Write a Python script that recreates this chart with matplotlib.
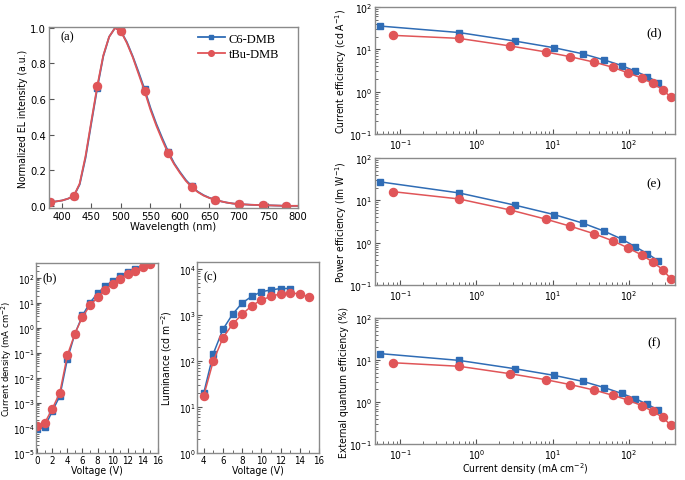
import matplotlib
matplotlib.use("Agg")
import matplotlib.pyplot as plt
from matplotlib.ticker import LogLocator, NullFormatter, MultipleLocator

plt.rcParams['font.family'] = ['DejaVu Sans']
plt.rcParams['font.stretch'] = 'condensed'
plt.rcParams['font.size'] = 8
plt.rcParams['mathtext.fontset'] = 'dejavusans'

AZUL = "#2f6cb5"
ROJO = "#e05558"
GRIS = "#8a8a8a"
SERIF = ['Liberation Serif', 'DejaVu Serif']

# (a) espectro EL normalizado
wl = list(range(380, 801, 10))
el_c6 = [0.02, 0.025, 0.03, 0.04, 0.055, 0.12, 0.27, 0.47, 0.665, 0.84, 0.95, 1.0, 0.98,
         0.92, 0.84, 0.75, 0.655, 0.55, 0.46, 0.38, 0.305, 0.24, 0.19, 0.145, 0.11, 0.08,
         0.06, 0.045, 0.035, 0.025, 0.018, 0.013, 0.01, 0.008, 0.006, 0.005, 0.005, 0.003,
         0.002, 0.001, 0.0, 0.0, 0.0]
el_tbu = [0.02, 0.025, 0.03, 0.04, 0.055, 0.125, 0.28, 0.48, 0.675, 0.845, 0.95, 1.0, 0.98,
          0.915, 0.835, 0.74, 0.645, 0.54, 0.45, 0.37, 0.295, 0.235, 0.185, 0.14, 0.105, 0.078,
          0.058, 0.044, 0.034, 0.025, 0.018, 0.013, 0.01, 0.008, 0.006, 0.005, 0.005, 0.003,
          0.002, 0.001, 0.0, 0.0, 0.0]

# (b), (c) J-V y L-V
v_c6 = [0, 1, 2, 3, 4, 5, 6, 7, 8, 9, 10, 11, 12, 13]
j_c6 = [9e-5, 1.1e-4, 4.7e-4, 1.9e-3, 0.057, 0.6, 3.2, 10.5, 24.5, 47, 78, 118, 168, 235]
v_tbu = [0, 1, 2, 3, 4, 5, 6, 7, 8, 9, 10, 11, 12, 13, 14, 15]
j_tbu = [1.2e-4, 1.6e-4, 5.9e-4, 2.6e-3, 0.083, 0.6, 2.8, 8.1, 17, 34, 60, 95, 145, 200, 275, 350]

vl_c6 = [4, 5, 6, 7, 8, 9, 10, 11, 12, 13]
lum_c6 = [20, 144, 485, 1030, 1810, 2520, 3170, 3480, 3730, 3730]
vl_tbu = [4, 5, 6, 7, 8, 9, 10, 11, 12, 13, 14, 15]
lum_tbu = [17.5, 100, 316, 630, 1030, 1580, 2100, 2520, 2870, 2970, 2870, 2410]

# (d), (e), (f) eficiencias vs densidad de corriente
jd_c6 = [0.055, 0.59, 3.2, 10.5, 24.8, 47.6, 80, 121, 174, 243]
jd_tbu = [0.082, 0.59, 2.8, 8.1, 17, 34.7, 61.7, 95.7, 147, 204, 277, 352]
ce_c6 = [35.5, 25, 15.7, 10.9, 7.85, 5.6, 4.15, 3.04, 2.28, 1.64]
ce_tbu = [21.4, 18.2, 12, 8.7, 6.7, 5.0, 3.76, 2.8, 2.1, 1.57, 1.11, 0.74]
pe_c6 = [27.3, 15, 7.7, 4.6, 2.9, 1.86, 1.22, 0.80, 0.55, 0.37]
pe_tbu = [16, 10.8, 5.9, 3.6, 2.45, 1.63, 1.1, 0.76, 0.51, 0.35, 0.23, 0.14]
eqe_c6 = [14.2, 9.8, 6.2, 4.3, 3.1, 2.2, 1.6, 1.2, 0.88, 0.64]
eqe_tbu = [8.6, 7.1, 4.7, 3.4, 2.6, 1.93, 1.44, 1.12, 0.82, 0.6, 0.43, 0.28]


def estilo(ax, logy=False, logx=False, ls=7.5):
    for s in ax.spines.values():
        s.set_color(GRIS)
        s.set_linewidth(1.0)
    ax.tick_params(which='both', direction='in', top=False, right=False,
                   color='#555555', labelsize=ls, pad=2)
    ax.tick_params(which='major', length=3.5)
    ax.tick_params(which='minor', length=2)
    if logy:
        ax.set_yscale('log')
        ax.yaxis.set_major_locator(LogLocator(base=10, numticks=20))
        ax.yaxis.set_minor_locator(LogLocator(base=10, subs=range(2, 10), numticks=20))
        ax.yaxis.set_minor_formatter(NullFormatter())
    if logx:
        ax.set_xscale('log')
        ax.xaxis.set_major_locator(LogLocator(base=10, numticks=20))
        ax.xaxis.set_minor_locator(LogLocator(base=10, subs=range(2, 10), numticks=20))
        ax.xaxis.set_minor_formatter(NullFormatter())


def curvas(ax, x1, y1, x2, y2):
    ax.plot(x1, y1, '-s', color=AZUL, lw=1.1, ms=5, label='C6-DMB')
    ax.plot(x2, y2, '-o', color=ROJO, lw=1.1, ms=5.8, label='tBu-DMB')


fig = plt.figure(figsize=(6.85, 4.81), dpi=100)

# (a)
ax = fig.add_axes([0.0715, 0.5655, 0.3635, 0.3763])
estilo(ax, ls=8)
ax.plot(wl, el_c6, '-s', color=AZUL, lw=1.3, ms=5, markevery=4, label='C6-DMB')
ax.plot(wl, el_tbu, '-o', color=ROJO, lw=1.3, ms=5.8, markevery=4, label='tBu-DMB')
ax.set_xlim(378, 800)
ax.set_ylim(-0.012, 1.005)
ax.xaxis.set_major_locator(MultipleLocator(50))
ax.yaxis.set_major_locator(MultipleLocator(0.2))
ax.yaxis.set_major_formatter(plt.FormatStrFormatter('%.1f'))
ax.set_xlabel('Wavelength (nm)', labelpad=0, fontsize=8)
ax.set_ylabel('Normalized EL intensity (a.u.)', labelpad=2, fontsize=7.5)
ax.text(0.045, 0.93, '(a)', transform=ax.transAxes, family=SERIF, fontsize=9)
ax.legend(loc='upper right', frameon=False, prop={'family': SERIF, 'size': 9},
          handlelength=2.2, handletextpad=0.3, labelspacing=0.25, markerscale=0.7,
          bbox_to_anchor=(0.97, 1.03))

# (b)
ax = fig.add_axes([0.0526, 0.0561, 0.1781, 0.395])
estilo(ax, logy=True, ls=7)
ax.tick_params(pad=1.5)
ax.tick_params(axis='y', pad=1)
curvas(ax, v_c6, j_c6, v_tbu, j_tbu)
ax.set_xlim(-0.15, 16)
ax.set_ylim(1e-5, 400)
ax.xaxis.set_major_locator(MultipleLocator(2))
ax.xaxis.set_minor_locator(MultipleLocator(1))
ax.set_xlabel('Voltage (V)', fontsize=7.5, labelpad=0)
ax.set_ylabel('Current density (mA cm$^{-2}$)', fontsize=6.8)
ax.yaxis.set_label_coords(-0.182, 0.5)
ax.text(0.05, 0.91, '(b)', transform=ax.transAxes, family=SERIF, fontsize=9)

# (c)
ax = fig.add_axes([0.2876, 0.0561, 0.1781, 0.397])
estilo(ax, logy=True, ls=7)
ax.tick_params(pad=1.5)
ax.tick_params(axis='y', pad=1)
curvas(ax, vl_c6, lum_c6, vl_tbu, lum_tbu)
ax.set_xlim(3.3, 16)
ax.set_ylim(1, 1.4e4)
ax.xaxis.set_major_locator(MultipleLocator(2))
ax.xaxis.set_minor_locator(MultipleLocator(1))
ax.set_xlabel('Voltage (V)', fontsize=7.5, labelpad=0)
ax.set_ylabel('Luminance (cd m$^{-2}$)', fontsize=7.5)
ax.yaxis.set_label_coords(-0.19, 0.5)
ax.text(0.05, 0.91, '(c)', transform=ax.transAxes, family=SERIF, fontsize=9)

# (d), (e), (f)
paneles = [
    ([0.5474, 0.7193, 0.438, 0.264], ce_c6, ce_tbu, 'Current efficiency (cd A$^{-1}$)', '(d)'),
    ([0.5474, 0.4054, 0.438, 0.264], pe_c6, pe_tbu, 'Power efficiency (lm W$^{-1}$)', '(e)'),
    ([0.5474, 0.0748, 0.438, 0.262], eqe_c6, eqe_tbu, 'External quantum efficiency (%)', '(f)'),
]
for pos, y1, y2, etiqueta, letra in paneles:
    ax = fig.add_axes(pos)
    estilo(ax, logy=True, logx=True)
    curvas(ax, jd_c6, y1, jd_tbu, y2)
    ax.set_xlim(0.047, 400)
    ax.set_ylim(0.1, 100)
    ax.set_ylabel(etiqueta, labelpad=0, fontsize=7.5)
    ax.text(0.93, 0.78, letra, transform=ax.transAxes, family=SERIF, fontsize=9.5,
            ha='center')
    if letra == '(f)':
        ax.set_xlabel('Current density (mA cm$^{-2}$)', labelpad=0, fontsize=7.5)

fig.savefig('out.png', dpi=100)
